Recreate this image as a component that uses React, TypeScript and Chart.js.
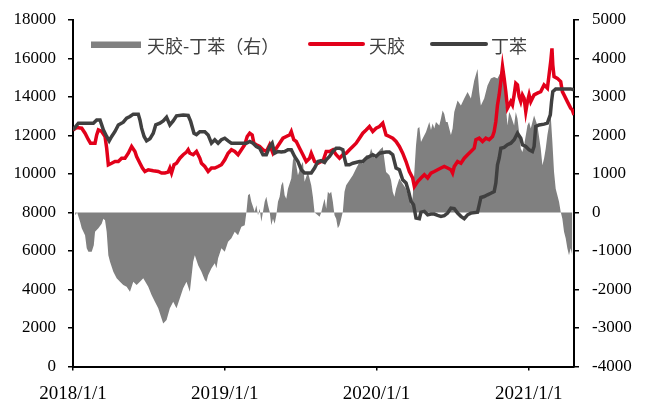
import React, { useEffect, useRef } from "react";
import { Chart, registerables } from "chart.js";

Chart.register(...registerables);

// ---------- data ----------
const START_DATE = "2018/1/1";
const END_DATE = "2021/4/20";
const xTickLabels = ["2018/1/1", "2019/1/1", "2020/1/1", "2021/1/1"];

const legendLabels = ["天胶-丁苯（右）", "天胶", "丁苯"];

// 丁苯 (SBR) — days since START_DATE / price
const sbrDays = [0, 13, 29, 49, 57, 65, 69, 73, 81, 87, 93, 101, 109, 121, 129, 137, 145, 157, 161, 165, 171, 177, 185, 193, 199, 209, 217, 225, 233, 241, 249, 265, 277, 283, 291, 297, 305, 317, 325, 333, 341, 349, 357, 365, 373, 381, 405, 417, 425, 433, 441, 449, 457, 465, 473, 479, 485, 493, 501, 509, 517, 525, 533, 541, 549, 557, 565, 573, 581, 589, 597, 605, 609, 617, 625, 633, 641, 649, 653, 657, 665, 673, 689, 697, 705, 713, 721, 729, 737, 753, 761, 769, 777, 785, 793, 801, 807, 813, 819, 825, 833, 837, 845, 853, 861, 869, 877, 885, 893, 901, 909, 917, 925, 933, 941, 949, 957, 973, 977, 981, 989, 997, 1005, 1013, 1017, 1021, 1025, 1029, 1037, 1045, 1053, 1061, 1069, 1077, 1081, 1089, 1097, 1105, 1109, 1113, 1121, 1133, 1141, 1148, 1151, 1154, 1161, 1173, 1185, 1197, 1205];
const sbrValues = [12290, 12640, 12640, 12640, 12810, 12810, 12550, 12290, 11950, 11720, 11950, 12210, 12550, 12690, 12900, 12990, 13110, 13110, 12810, 12380, 11950, 11720, 11830, 12120, 12550, 12640, 12760, 12950, 12550, 12760, 13020, 13070, 13040, 12730, 12120, 12050, 12200, 12200, 12030, 11600, 11780, 11600, 11780, 11860, 11720, 11600, 11600, 11600, 11690, 11600, 11430, 11340, 11000, 11000, 11430, 11600, 11080, 11170, 11140, 11170, 11260, 11260, 10910, 10650, 10220, 10050, 10050, 10050, 10310, 10650, 10690, 10600, 10740, 10910, 11170, 11340, 11340, 11260, 10820, 10480, 10480, 10560, 10650, 10650, 10820, 10910, 11000, 10910, 11080, 11140, 11140, 11000, 10310, 10220, 9700, 9530, 9100, 8580, 8400, 7710, 7680, 8020, 8060, 7880, 7920, 7920, 7850, 7800, 7840, 7970, 8230, 8200, 7970, 7800, 7680, 7880, 7970, 8020, 8400, 8780, 8830, 8920, 9000, 9090, 9530, 10480, 10820, 11340, 11380, 11520, 11600, 11780, 12120, 11860, 11520, 11430, 11260, 11170, 11430, 12470, 12550, 12590, 12640, 13070, 13760, 14280, 14420, 14420, 14420, 14420, 14370];

// 天胶 (natural rubber) — days since START_DATE / price
const rubberDays = [0, 9, 21, 29, 37, 42, 53, 57, 61, 69, 77, 81, 85, 93, 101, 109, 117, 125, 133, 141, 149, 153, 161, 167, 173, 181, 193, 205, 213, 221, 229, 233, 237, 243, 249, 257, 265, 273, 277, 281, 289, 297, 305, 309, 317, 325, 333, 341, 349, 357, 365, 373, 381, 389, 397, 405, 413, 419, 425, 431, 435, 441, 449, 457, 465, 473, 481, 489, 497, 505, 513, 521, 525, 531, 537, 545, 553, 561, 569, 573, 581, 589, 597, 601, 609, 617, 625, 633, 641, 649, 657, 665, 673, 681, 689, 697, 705, 713, 721, 729, 737, 745, 753, 761, 769, 777, 785, 793, 801, 809, 817, 821, 829, 837, 845, 853, 861, 869, 877, 885, 893, 901, 909, 913, 917, 925, 933, 941, 949, 957, 965, 969, 977, 985, 993, 1001, 1009, 1013, 1017, 1021, 1025, 1029, 1033, 1037, 1041, 1045, 1049, 1053, 1057, 1061, 1065, 1069, 1073, 1077, 1081, 1085, 1089, 1093, 1097, 1101, 1105, 1109, 1117, 1125, 1133, 1141, 1145, 1149, 1152, 1154, 1157, 1165, 1173, 1177, 1181, 1189, 1197, 1201, 1205];
const rubberValues = [12290, 12410, 12380, 12120, 11780, 11600, 11600, 12030, 12290, 12210, 11950, 11340, 10480, 10560, 10650, 10650, 10820, 10820, 11080, 11430, 11170, 10910, 10560, 10310, 10130, 10220, 10170, 10130, 10050, 10050, 10100, 10310, 10050, 10480, 10560, 10820, 11000, 11140, 11260, 11080, 11000, 11170, 10820, 10560, 10390, 10130, 10310, 10310, 10390, 10480, 10740, 11080, 11260, 11170, 11000, 11260, 11520, 11950, 12120, 12030, 11600, 11520, 11430, 11260, 11170, 11520, 11080, 11340, 11600, 11860, 11950, 12030, 12210, 11780, 11690, 11340, 11000, 10650, 10820, 11080, 10650, 10560, 10650, 10650, 11170, 11170, 11260, 11000, 10820, 11000, 11080, 11260, 11430, 11600, 11860, 12120, 12290, 12470, 12210, 12380, 12470, 12640, 12030, 11950, 11860, 11690, 11430, 11080, 10650, 10130, 9790, 9350, 9610, 9790, 9960, 9790, 10050, 10130, 10220, 10310, 10390, 10310, 10220, 10050, 10390, 10650, 10560, 10820, 11000, 11170, 11340, 11780, 11860, 11690, 11860, 11780, 11950, 12210, 12730, 13590, 14110, 14800, 15580, 14970, 14280, 13420, 13590, 13760, 13590, 14110, 14710, 14630, 14020, 13760, 14110, 13940, 13240, 13760, 14110, 13760, 13940, 14110, 14200, 14280, 14630, 14460, 15150, 15840, 16530, 15670, 15060, 14970, 14800, 14280, 14110, 13760, 13420, 13330, 13070];

// 天胶-丁苯 spread (right axis) — days since START_DATE / spread
const spreadDays = [5, 10, 17, 21, 29, 33, 37, 45, 50, 53, 61, 69, 73, 77, 81, 85, 89, 97, 105, 113, 121, 129, 137, 145, 153, 161, 169, 181, 189, 197, 205, 213, 217, 225, 233, 241, 249, 257, 265, 273, 281, 289, 293, 301, 309, 317, 321, 325, 333, 341, 345, 349, 357, 365, 373, 381, 389, 397, 405, 413, 417, 421, 425, 429, 437, 441, 445, 449, 453, 457, 461, 465, 469, 473, 477, 481, 485, 489, 493, 497, 501, 505, 509, 513, 517, 525, 529, 533, 541, 549, 553, 557, 565, 569, 573, 577, 581, 589, 593, 597, 601, 605, 609, 613, 617, 621, 625, 629, 633, 637, 641, 645, 649, 653, 657, 665, 673, 681, 689, 697, 705, 713, 717, 725, 733, 737, 745, 753, 761, 765, 769, 773, 777, 785, 793, 801, 809, 813, 817, 821, 825, 829, 833, 837, 841, 849, 857, 861, 865, 869, 873, 881, 885, 889, 893, 897, 901, 909, 913, 917, 925, 933, 941, 949, 957, 965, 973, 977, 981, 989, 997, 1005, 1013, 1021, 1029, 1033, 1037, 1041, 1045, 1049, 1053, 1061, 1065, 1069, 1073, 1077, 1081, 1085, 1093, 1097, 1101, 1109, 1117, 1125, 1129, 1133, 1137, 1141, 1149, 1153, 1157, 1161, 1165, 1169, 1173, 1177, 1181, 1185, 1189, 1193, 1197, 1201];
const spreadValues = [-70, 0, -240, -410, -590, -930, -1020, -1020, -850, -500, -410, -290, -160, -200, -500, -1110, -1280, -1540, -1710, -1800, -1880, -1930, -2060, -1800, -1880, -1800, -1710, -1930, -2140, -2320, -2490, -2750, -2880, -2790, -2490, -2320, -2490, -2230, -1970, -1800, -2060, -1280, -1110, -1370, -1540, -1750, -1800, -1630, -1450, -1320, -1450, -1190, -930, -1020, -760, -670, -500, -590, -370, -330, 0, 450, 490, 280, 20, 190, -70, 100, -240, 20, 280, 410, 190, 20, -330, -160, -290, -70, 280, 410, 710, 800, 450, 360, 620, 880, 1360, 1490, 970, 1230, 1310, 800, 1050, 880, 710, 410, 0, -70, -110, 0, 190, 360, 100, 540, 490, 540, 280, -70, -160, -410, -330, -160, 20, 540, 710, 840, 970, 1140, 1310, 1270, 1490, 1490, 1660, 1410, 1490, 1620, 1700, 1050, 970, 840, 540, 410, 620, 880, 750, 620, 360, 190, 410, 1050, 1750, 2180, 2220, 1830, 1920, 2090, 2350, 2140, 2310, 2180, 2350, 2260, 2440, 2650, 2560, 2350, 2350, 2010, 2180, 2610, 2910, 2780, 2960, 3130, 2960, 3430, 3730, 3130, 2780, 2960, 3300, 3480, 3520, 3480, 3650, 4080, 3390, 2780, 2260, 2610, 2520, 2260, 2610, 2440, 2090, 1660, 1570, 1750, 2260, 2350, 2180, 2520, 2260, 1660, 1230, 1400, 1660, 2010, 2520, 1830, 1050, 620, 450, 280, 20, -160, -500, -670, -930, -1110, -930, -1110];

// axis ranges
const leftMin = 0, leftMax = 18000, leftStep = 2000;
const rightMin = -4000, rightMax = 5000, rightStep = 1000;

// ---------- helpers ----------
const dayOf = (label: string) => {
  const [y, m, d] = label.split("/").map(Number);
  const [y0, m0, d0] = START_DATE.split("/").map(Number);
  return Math.round((Date.UTC(y, m - 1, d) - Date.UTC(y0, m0 - 1, d0)) / 86400000);
};
const toPoints = (days: number[], values: number[]) => days.map((d, i) => ({ x: d, y: values[i] }));

const RED = "#E2001A";
const DARK = "#404040";
const GRAY = "#808080";
const TEXT = "#404040";
const SERIF = "'Liberation Serif', 'Times New Roman', serif";
const CJK = "'Noto Sans CJK SC', 'Noto Sans', sans-serif";

const insideLegend = {
  id: "insideLegend",
  afterDraw(chart: any) {
    const ctx = chart.ctx as CanvasRenderingContext2D;
    const { left } = chart.chartArea;
    const y = chart.chartArea.top + 25;
    ctx.save();
    ctx.font = `18px ${CJK}`;
    ctx.textBaseline = "middle";
    ctx.fillStyle = GRAY;
    ctx.fillRect(left + 18, y - 3.5, 50, 6.5);
    ctx.fillStyle = TEXT;
    ctx.fillText(legendLabels[0], left + 74, y + 1.5);
    ctx.strokeStyle = RED;
    ctx.lineWidth = 4;
    ctx.lineCap = "round";
    ctx.beginPath();
    ctx.moveTo(left + 237, y - 1);
    ctx.lineTo(left + 290, y - 1);
    ctx.stroke();
    ctx.fillText(legendLabels[1], left + 296, y + 1.5);
    ctx.strokeStyle = DARK;
    ctx.beginPath();
    ctx.moveTo(left + 359, y - 1);
    ctx.lineTo(left + 413, y - 1);
    ctx.stroke();
    ctx.fillText(legendLabels[2], left + 418, y + 1.5);
    ctx.restore();
  },
};

const fixVertical = (width: number) => (scale: any) => {
  scale.width = width;
  scale.paddingTop = 0;
  scale.paddingBottom = 0;
};

export default function App() {
  const ref = useRef<HTMLCanvasElement | null>(null);

  useEffect(() => {
    if (!ref.current) return;
    const xTickDays = xTickLabels.map(dayOf);
    const chart = new Chart(ref.current, {
      type: "line",
      data: {
        datasets: [
          {
            label: legendLabels[2],
            data: toPoints(sbrDays, sbrValues),
            borderColor: DARK,
            borderWidth: 3.5,
            pointRadius: 0,
            tension: 0,
            yAxisID: "y",
            order: 1,
          },
          {
            label: legendLabels[1],
            data: toPoints(rubberDays, rubberValues),
            borderColor: RED,
            borderWidth: 3.5,
            pointRadius: 0,
            tension: 0,
            yAxisID: "y",
            order: 2,
          },
          {
            label: legendLabels[0],
            data: toPoints(spreadDays, spreadValues),
            borderWidth: 0,
            borderColor: "rgba(0,0,0,0)",
            backgroundColor: GRAY,
            fill: "origin",
            pointRadius: 0,
            tension: 0,
            yAxisID: "y1",
            order: 3,
          },
        ],
      },
      options: {
        animation: false,
        responsive: true,
        maintainAspectRatio: false,
        layout: { padding: { top: 12, left: 0, right: 0, bottom: 0 }, autoPadding: false },
        plugins: { legend: { display: false }, tooltip: { enabled: false } },
        scales: {
          x: {
            type: "linear",
            min: dayOf(START_DATE),
            max: dayOf(END_DATE),
            afterBuildTicks: (scale: any) => {
              scale.ticks = xTickDays.map((v) => ({ value: v }));
            },
            afterFit: (scale: any) => {
              scale.height = 33.5;
              scale.paddingLeft = 0;
              scale.paddingRight = 0;
            },
            ticks: {
              autoSkip: false,
              maxRotation: 0,
              padding: 12,
              color: "#000",
              font: { family: SERIF, size: 19 },
              callback: (v: any) => {
                const i = xTickDays.indexOf(Number(v));
                return i >= 0 ? xTickLabels[i] : "";
              },
            },
            grid: { drawOnChartArea: false, drawTicks: true, tickLength: 4, color: "#000", lineWidth: 1.5 },
            border: { display: true, color: "#000", width: 2 },
          },
          y: {
            position: "left",
            min: leftMin,
            max: leftMax,
            afterFit: fixVertical(65),
            ticks: {
              stepSize: leftStep,
              padding: 12,
              color: "#000",
              font: { family: SERIF, size: 17 },
              callback: (v: any) => String(v),
            },
            grid: { drawOnChartArea: false, drawTicks: true, tickLength: 5, color: "#000", lineWidth: 1.5 },
            border: { display: true, color: "#000", width: 2 },
          },
          y1: {
            position: "right",
            min: rightMin,
            max: rightMax,
            afterFit: fixVertical(63),
            ticks: {
              stepSize: rightStep,
              padding: 13,
              color: "#000",
              font: { family: SERIF, size: 17 },
              callback: (v: any) => String(v),
            },
            grid: { drawOnChartArea: false, drawTicks: true, tickLength: 5, color: "#000", lineWidth: 1.5 },
            border: { display: true, color: "#000", width: 2 },
          },
        },
      },
      plugins: [insideLegend],
    } as any);
    return () => chart.destroy();
  }, []);

  return (
    <div style={{ width: 629, height: 392, position: "relative" }}>
      <canvas ref={ref} />
    </div>
  );
}
